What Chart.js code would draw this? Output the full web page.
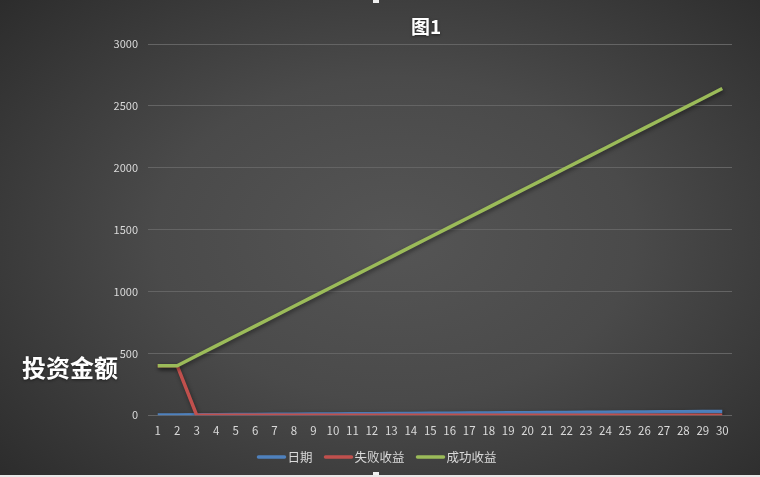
<!DOCTYPE html>
<html><head><meta charset="utf-8">
<script src="https://cdn.jsdelivr.net/npm/chart.js@4/dist/chart.umd.min.js"></script>
<style>
html,body{margin:0;padding:0;width:760px;height:477px;overflow:hidden;}
body{background:radial-gradient(ellipse 70% 75% at 52% 50%, #555555 0%, #4a4a4a 45%, #2c2c2c 100%);}
#wrap{position:absolute;left:0;top:0;width:760px;height:477px;}
#strip{position:absolute;left:0;bottom:0;width:760px;height:2px;background:#e8e8e8;}
.h{position:absolute;width:6px;height:3px;background:#f0f0f0;left:373px;}
</style></head>
<body>
<div id="wrap"><canvas id="c" width="760" height="477"></canvas></div>
<div id="strip"></div>
<div class="h" style="top:0"></div>
<div class="h" style="top:472px"></div>
<script>
const categories = ['1','2','3','4','5','6','7','8','9','10','11','12','13','14','15','16','17','18','19','20','21','22','23','24','25','26','27','28','29','30'];
const dates = [1,2,3,4,5,6,7,8,9,10,11,12,13,14,15,16,17,18,19,20,21,22,23,24,25,26,27,28,29,30];
const failGain = [400,400,0,0,0,0,0,0,0,0,0,0,0,0,0,0,0,0,0,0,0,0,0,0,0,0,0,0,0,0];
const successGain = [400,400,480,560,640,720,800,880,960,1040,1120,1200,1280,1360,1440,1520,1600,1680,1760,1840,1920,2000,2080,2160,2240,2320,2400,2480,2560,2640];
const seriesNames = ['日期','失败收益','成功收益'];
const yTitle = '投资金额';
const chartTitle = '图1';

const FONT = '"Noto Sans CJK SC", "Noto Sans", sans-serif';

const shadowPlugin = {
  id:'shadow',
  beforeDatasetsDraw(chart){ const c=chart.ctx; c.save(); c.shadowColor='rgba(0,0,0,0.45)'; c.shadowBlur=4; c.shadowOffsetX=1; c.shadowOffsetY=2; },
  afterDatasetsDraw(chart){ chart.ctx.restore(); }
};
const textPlugin = {
  id:'texts',
  afterDraw(chart){
    const c=chart.ctx; c.save();
    c.shadowColor='rgba(0,0,0,0.5)'; c.shadowBlur=3; c.shadowOffsetY=1;
    c.fillStyle = '#ffffff';
    c.textBaseline='middle';
    // y axis title
    c.font = 'bold 24px ' + FONT;
    c.textAlign='left';
    c.fillText(yTitle, 22, 368);
    // chart title
    c.font = 'bold 19px ' + FONT;
    c.textAlign='center';
    c.fillText(chartTitle, 426, 27);
    c.shadowColor='transparent';
    // legend
    const ds = chart.data.datasets;
    c.font = '12.5px ' + FONT;
    const lineW = 28, gap = 2, itemGap = 12;
    const widths = ds.map(d => lineW + gap + c.measureText(d.label).width);
    const total = widths.reduce((a,b)=>a+b,0) + itemGap*(ds.length-1);
    let x = 377 - total/2;
    const y = 457;
    ds.forEach((d,i)=>{
      c.strokeStyle = d.borderColor; c.lineWidth = 3.5; c.lineCap='round';
      c.beginPath(); c.moveTo(x+1, y); c.lineTo(x+lineW-1, y); c.stroke();
      c.fillStyle = '#d9d9d9'; c.textAlign='left';
      c.fillText(d.label, x+lineW+gap, y);
      x += widths[i] + itemGap;
    });
    c.restore();
  }
};

new Chart(document.getElementById('c'), {
  type:'line',
  data:{
    labels: categories,
    datasets:[
      {label:seriesNames[0], data:dates, borderColor:'#4f81bd', backgroundColor:'#4f81bd', borderWidth:3.5, pointRadius:0, order:3, tension:0},
      {label:seriesNames[1], data:failGain, borderColor:'#c0504d', backgroundColor:'#c0504d', borderWidth:3.5, pointRadius:0, order:2, tension:0},
      {label:seriesNames[2], data:successGain, borderColor:'#9bbb59', backgroundColor:'#9bbb59', borderWidth:3.5, pointRadius:0, order:1, tension:0}
    ]
  },
  options:{
    responsive:false, animation:false,
    layout:{padding:{left:0,right:28,top:44,bottom:38}},
    plugins:{
      title:{display:false},
      legend:{display:false},
      tooltip:{enabled:false}
    },
    scales:{
      x:{offset:true, grid:{display:false}, border:{display:false},
         ticks:{color:'#d9d9d9', font:{family:FONT, size:11.5}, maxRotation:0, autoSkip:false, padding:1}},
      y:{min:0, max:3000, grid:{color:'#646464', lineWidth:1, drawTicks:false}, border:{display:false},
         ticks:{stepSize:500, color:'#d9d9d9', font:{family:FONT, size:11}, padding:10, callback:(v)=>String(v)},
         afterFit(s){ s.width = 148; }}
    }
  },
  plugins:[shadowPlugin, textPlugin]
});
</script>
</body></html>
